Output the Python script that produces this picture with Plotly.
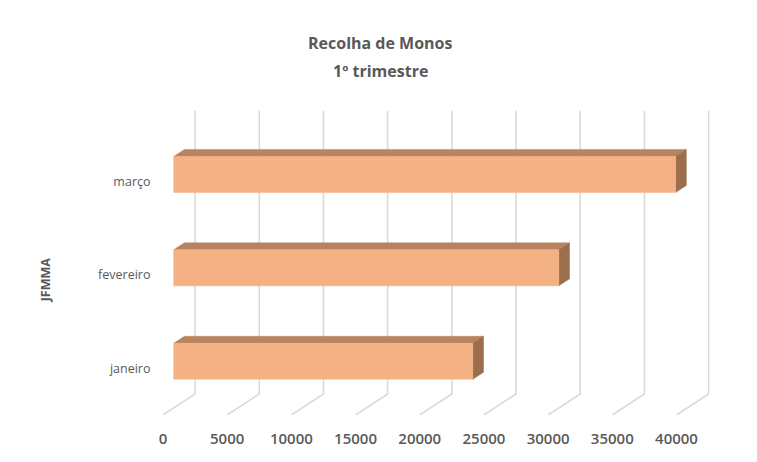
import plotly.graph_objects as go

# ---- data ----
months = ["janeiro", "fevereiro", "março"]
values = [23300, 30000, 39100]
tick_values = [0, 5000, 10000, 15000, 20000, 25000, 30000, 35000, 40000]
tick_labels = [str(v) for v in tick_values]

# ---- oblique 3D projection parameters (style) ----
DX = 2500.0      # depth offset along value axis (data units)
DY = 0.225       # depth offset along category axis
BAR_H = 0.385    # bar thickness in category units
D_FRONT = 1 / 3  # bar front face depth
D_BACK = 2 / 3   # bar back face depth
FLOOR = -0.5
GRID_TOP = 2.76

FRONT = "#F4B183"
TOP = "#B8835F"
SIDE = "#9C6E4E"
GRID = "#D9D9D9"
TXT = "#595959"

fig = go.Figure()

# gridlines: back wall verticals bent onto the floor
gx, gy = [], []
for v in tick_values:
    gx += [v + DX, v + DX, v, None]
    gy += [GRID_TOP, FLOOR + DY, FLOOR, None]
fig.add_trace(go.Scatter(x=gx, y=gy, mode="lines",
                         line=dict(color=GRID, width=1.5),
                         hoverinfo="skip", showlegend=False))

for i, (m, v) in enumerate(zip(months, values)):
    c = i
    fx0, fx1 = D_FRONT * DX, v + D_FRONT * DX
    bx0, bx1 = D_BACK * DX, v + D_BACK * DX
    fyc = c + D_FRONT * DY
    byc = c + D_BACK * DY
    ft, fb = fyc + BAR_H / 2, fyc - BAR_H / 2
    bt, bb = byc + BAR_H / 2, byc - BAR_H / 2
    # top face
    fig.add_trace(go.Scatter(x=[fx0, fx1, bx1, bx0, fx0], y=[ft, ft, bt, bt, ft],
                             fill="toself", fillcolor=TOP, mode="lines",
                             line=dict(color=TOP, width=0.5),
                             hoverinfo="skip", showlegend=False))
    # side face
    fig.add_trace(go.Scatter(x=[fx1, bx1, bx1, fx1, fx1], y=[ft, bt, bb, fb, ft],
                             fill="toself", fillcolor=SIDE, mode="lines",
                             line=dict(color=SIDE, width=0.5),
                             hoverinfo="skip", showlegend=False))
    # front face
    fig.add_trace(go.Scatter(x=[fx0, fx1, fx1, fx0, fx0], y=[fb, fb, ft, ft, fb],
                             fill="toself", fillcolor=FRONT, mode="lines",
                             line=dict(color=FRONT, width=0.5),
                             name=m, hovertemplate=f"{m}: {v}<extra></extra>",
                             showlegend=False))

W, H = 757, 462
ML, MR, MT, MB = 163, 42, 87.5, 47.25
PW, PH = W - ML - MR, H - MT - MB

fig.update_layout(
    width=W, height=H,
    margin=dict(l=ML, r=MR, t=MT, b=MB, autoexpand=False),
    paper_bgcolor="white", plot_bgcolor="white",
    font=dict(family="Open Sans, Noto Sans, sans-serif", color=TXT, size=12),
    showlegend=False,
    xaxis=dict(range=[0, 43000], showgrid=False, zeroline=False, showline=False,
               tickmode="array", tickvals=tick_values, ticktext=tick_labels,
               ticks="outside", ticklen=10, tickcolor="rgba(0,0,0,0)",
               tickfont=dict(size=15, color=TXT, weight=600), fixedrange=True),
    yaxis=dict(range=[FLOOR, 3.0], showgrid=False, zeroline=False, showline=False,
               tickmode="array", tickvals=[0, 1, 2], ticktext=months,
               ticks="outside", ticklen=9, tickcolor="rgba(0,0,0,0)",
               tickfont=dict(size=12.5, color=TXT), fixedrange=True),
    annotations=[
        dict(text="<b>Recolha de Monos</b>", xref="paper", yref="paper",
             x=(380 - ML) / PW, y=1 + (MT - 42) / PH,
             showarrow=False, xanchor="center", yanchor="middle",
             font=dict(size=16, color=TXT)),
        dict(text="<b>1º trimestre</b>", xref="paper", yref="paper",
             x=(380 - ML) / PW, y=1 + (MT - 70) / PH,
             showarrow=False, xanchor="center", yanchor="middle",
             font=dict(size=16, color=TXT)),
        dict(text="<b>JFMMA</b>", xref="paper", yref="paper",
             x=(45 - ML) / PW, y=1 - (280 - MT) / PH,
             showarrow=False, xanchor="center", yanchor="middle", textangle=-90,
             font=dict(size=12.5, color=TXT)),
    ],
)

fig.write_html("out.html", config={"displayModeBar": False},
               post_script="document.body.style.margin='0';")
